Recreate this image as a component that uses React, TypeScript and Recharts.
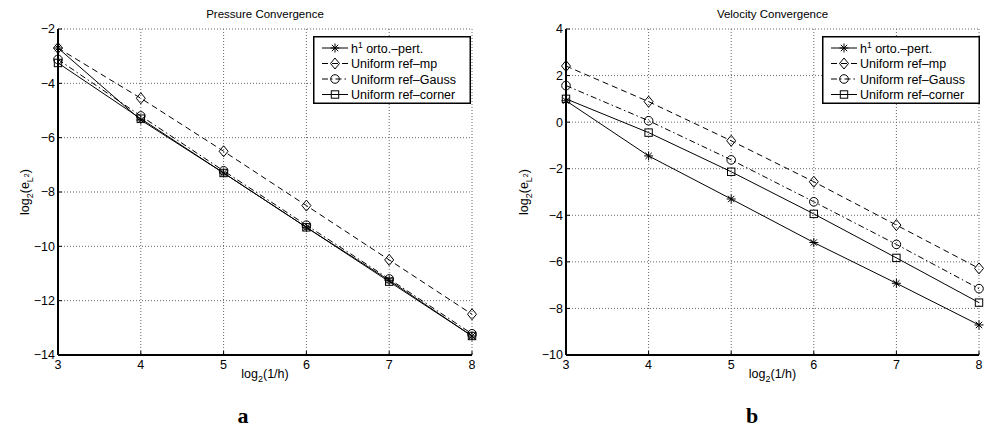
import { LineChart, Line, XAxis, YAxis, CartesianGrid, Label } from "recharts";

const refinement = [3, 4, 5, 6, 7, 8];

// pressure panel (a)
const pressureH1 = [-2.7, -5.35, -7.3, -9.3, -11.25, -13.3];
const pressureMp = [-2.7, -4.55, -6.5, -8.5, -10.5, -12.5];
const pressureGauss = [-3.12, -5.2, -7.22, -9.22, -11.2, -13.22];
const pressureCorner = [-3.25, -5.3, -7.3, -9.3, -11.3, -13.3];

// velocity panel (b)
const velocityH1 = [0.92, -1.45, -3.3, -5.17, -6.92, -8.71];
const velocityMp = [2.41, 0.88, -0.8, -2.56, -4.42, -6.28];
const velocityGauss = [1.57, 0.06, -1.62, -3.42, -5.25, -7.15];
const velocityCorner = [1.0, -0.45, -2.13, -3.94, -5.83, -7.75];

const xTicks = [3, 4, 5, 6, 7, 8];
const pressureTicks = [-14, -12, -10, -8, -6, -4, -2];
const velocityTicks = [-10, -8, -6, -4, -2, 0, 2, 4];

const FONT = "'Liberation Sans', Arial, Helvetica, sans-serif";

type Marker = "star" | "diamond" | "circle" | "square";

const SERIES: { key: string; marker: Marker; dash?: string }[] = [
  { key: "h1", marker: "star" },
  { key: "mp", marker: "diamond", dash: "6 4" },
  { key: "gauss", marker: "circle", dash: "6 3 1.5 3" },
  { key: "corner", marker: "square" },
];

const drawMarker = (marker: Marker, cx: number, cy: number, key?: string) => {
  const s = { fill: "none", stroke: "#000", strokeWidth: 1 };
  if (marker === "star") {
    const r = 4.5;
    const d = r * 0.707;
    return (
      <g key={key}>
        <line x1={cx - r} y1={cy} x2={cx + r} y2={cy} {...s} />
        <line x1={cx} y1={cy - r} x2={cx} y2={cy + r} {...s} />
        <line x1={cx - d} y1={cy - d} x2={cx + d} y2={cy + d} {...s} />
        <line x1={cx - d} y1={cy + d} x2={cx + d} y2={cy - d} {...s} />
      </g>
    );
  }
  if (marker === "diamond") {
    return <polygon key={key} points={`${cx},${cy - 5.5} ${cx + 4.5},${cy} ${cx},${cy + 5.5} ${cx - 4.5},${cy}`} {...s} />;
  }
  if (marker === "circle") {
    return <circle key={key} cx={cx} cy={cy} r={4.3} {...s} />;
  }
  return <rect key={key} x={cx - 3.7} y={cy - 3.7} width={7.4} height={7.4} {...s} />;
};

const dotFor = (marker: Marker) => (props: any) =>
  drawMarker(marker, props.cx, props.cy, `${marker}-${props.index}`);

const LegendBox = () => (
  <svg width={158} height={68} style={{ display: "block" }}>
    <rect x={0.75} y={0.75} width={156.5} height={66.5} fill="#fff" stroke="#000" strokeWidth={1.5} />
    {SERIES.map((s, i) => {
      const y = 12 + i * 15.5;
      return (
        <g key={s.key}>
          <line x1={9} y1={y} x2={35} y2={y} stroke="#000" strokeWidth={1} strokeDasharray={s.dash} />
          {drawMarker(s.marker, 22, y)}
          <text x={38} y={y + 4.5} fontFamily={FONT} fontSize={12.5} fill="#000">
            {i === 0 ? (
              <>
                h<tspan dy={-5} fontSize={8.5}>1</tspan>
                <tspan dy={5}> orto.–pert.</tspan>
              </>
            ) : i === 1 ? (
              "Uniform ref–mp"
            ) : i === 2 ? (
              "Uniform ref–Gauss"
            ) : (
              "Uniform ref–corner"
            )}
          </text>
        </g>
      );
    })}
  </svg>
);

const YLabel = (props: any) => {
  const { viewBox, x } = props;
  const cy = viewBox.y + viewBox.height / 2;
  return (
    <text
      x={x}
      y={cy}
      transform={`rotate(-90 ${x} ${cy})`}
      textAnchor="middle"
      fontFamily={FONT}
      fontSize={12.5}
      fill="#000"
    >
      log<tspan dy={4} fontSize={9}>2</tspan>
      <tspan dy={-4}>(e</tspan>
      <tspan dy={4} fontSize={9}>L</tspan>
      <tspan dy={-4} fontSize={7}>2</tspan>
      <tspan dy={0}>)</tspan>
    </text>
  );
};

const XLabel = (props: any) => {
  const { viewBox } = props;
  const cx = viewBox.x + viewBox.width / 2;
  const y = viewBox.y + 23;
  return (
    <text x={cx} y={y} textAnchor="middle" fontFamily={FONT} fontSize={12.5} fill="#000">
      log<tspan dy={4} fontSize={9}>2</tspan>
      <tspan dy={-4}>(1/h)</tspan>
    </text>
  );
};

const fmt = (v: number) => String(v).replace("-", "−");

interface PanelProps {
  title: string;
  letter: string;
  width: number;
  yAxisWidth: number;
  rightMargin: number;
  yLabelX: number;
  letterX: number;
  domain: [number, number];
  yTicks: number[];
  legendLeft: number;
  values: number[][];
}

const Panel = (p: PanelProps) => {
  const rows = refinement.map((x, i) => ({
    x,
    h1: p.values[0][i],
    mp: p.values[1][i],
    gauss: p.values[2][i],
    corner: p.values[3][i],
  }));
  const plotLeft = p.yAxisWidth;
  const plotRight = p.width - p.rightMargin;
  return (
    <div style={{ position: "relative", width: p.width, height: 429 }}>
      <LineChart
        width={p.width}
        height={429}
        data={rows}
        margin={{ top: 29, right: p.rightMargin, bottom: 44, left: 0 }}
      >
        <CartesianGrid stroke="#666" strokeDasharray="1 2" strokeWidth={1} />
        <XAxis
          dataKey="x"
          type="number"
          domain={[3, 8]}
          ticks={xTicks}
          height={30}
          tickLine={{ stroke: "#000" }}
          tickSize={-4}
          tickMargin={9}
          axisLine={{ stroke: "#000", strokeWidth: 2 }}
          tick={{ fill: "#000", fontSize: 12.5, fontFamily: FONT }}
        >
          <Label content={<XLabel />} />
        </XAxis>
        <YAxis
          type="number"
          width={p.yAxisWidth}
          domain={p.domain}
          ticks={p.yTicks}
          tickFormatter={fmt}
          tickLine={{ stroke: "#000" }}
          tickSize={-4}
          tickMargin={7}
          axisLine={{ stroke: "#000", strokeWidth: 2 }}
          tick={{ fill: "#000", fontSize: 12.5, fontFamily: FONT }}
        >
          <Label content={<YLabel x={p.yLabelX} />} />
        </YAxis>
        {SERIES.map((s) => (
          <Line
            key={s.key}
            dataKey={s.key}
            type="linear"
            stroke="#000"
            strokeWidth={1}
            strokeDasharray={s.dash}
            dot={dotFor(s.marker)}
            activeDot={false}
            isAnimationActive={false}
          />
        ))}
      </LineChart>
      <div style={{ position: "absolute", top: 36, left: p.legendLeft }}>
        <LegendBox />
      </div>
      <div
        style={{
          position: "absolute",
          top: 8,
          left: plotLeft,
          width: plotRight - plotLeft,
          textAlign: "center",
          fontFamily: FONT,
          fontSize: 11.5,
          color: "#000",
        }}
      >
        {p.title}
      </div>
      <div
        style={{
          position: "absolute",
          top: 403,
          left: p.letterX - 20,
          width: 40,
          textAlign: "center",
          fontFamily: "'Liberation Serif', 'DejaVu Serif', serif",
          fontWeight: "bold",
          fontSize: 22,
          color: "#000",
        }}
      >
        {p.letter}
      </div>
    </div>
  );
};

export default function App() {
  return (
    <div
      style={{
        position: "absolute",
        left: 0,
        top: 0,
        width: 986,
        height: 429,
        background: "#fff",
        display: "flex",
      }}
    >
      <Panel
        title="Pressure Convergence"
        letter="a"
        width={490}
        yAxisWidth={58}
        rightMargin={18}
        yLabelX={21}
        letterX={243}
        domain={[-14, -2]}
        yTicks={pressureTicks}
        legendLeft={313}
        values={[pressureH1, pressureMp, pressureGauss, pressureCorner]}
      />
      <Panel
        title="Velocity Convergence"
        letter="b"
        width={496}
        yAxisWidth={76}
        rightMargin={7}
        yLabelX={36}
        letterX={262}
        domain={[-10, 4]}
        yTicks={velocityTicks}
        legendLeft={332}
        values={[velocityH1, velocityMp, velocityGauss, velocityCorner]}
      />
    </div>
  );
}
